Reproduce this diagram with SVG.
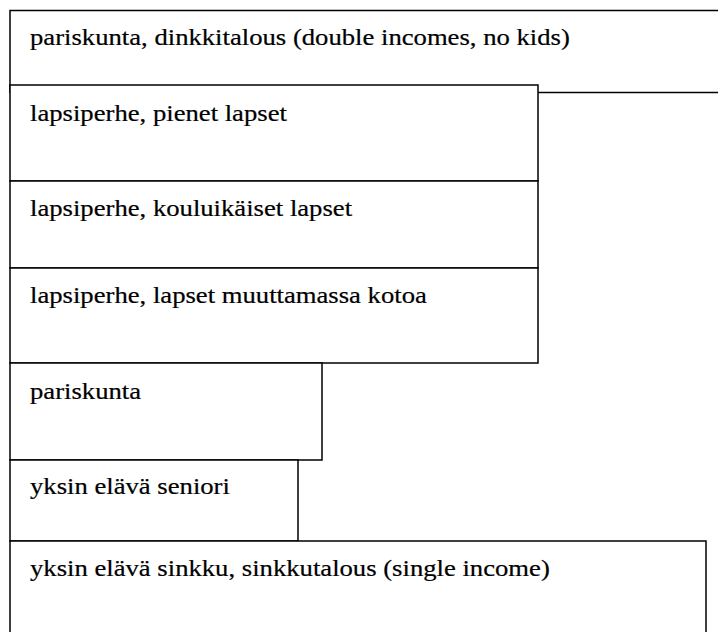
<svg xmlns="http://www.w3.org/2000/svg" width="718" height="632" viewBox="0 0 718 632">
  <style>
    .box { fill: #ffffff; stroke: #000000; stroke-width: 1.5; }
    .lbl { font-family: "Liberation Serif", "Times New Roman", serif; font-size: 23px; fill: #000000; stroke: #000000; stroke-width: 0.2; }
  </style>
  <rect width="718" height="632" fill="#ffffff"/>

  <!-- life-stage bands, stacked top to bottom -->
  <g id="dinks">
    <rect class="box" x="10" y="10.5" width="730" height="82"/>
    <text class="lbl" transform="translate(30,45) scale(1.16,1)">pariskunta, dinkkitalous (double incomes, no kids)</text>
  </g>
  <g id="small-children">
    <rect class="box" x="10" y="85" width="528" height="96"/>
    <text class="lbl" transform="translate(30,120.5) scale(1.16,1)">lapsiperhe, pienet lapset</text>
  </g>
  <g id="school-children">
    <rect class="box" x="10" y="181" width="528" height="87"/>
    <text class="lbl" transform="translate(30,216) scale(1.16,1)">lapsiperhe, kouluikäiset lapset</text>
  </g>
  <g id="children-moving-out">
    <rect class="box" x="10" y="268" width="528" height="95"/>
    <text class="lbl" transform="translate(30,302.7) scale(1.16,1)">lapsiperhe, lapset muuttamassa kotoa</text>
  </g>
  <g id="couple">
    <rect class="box" x="10" y="363" width="312" height="97"/>
    <text class="lbl" transform="translate(30,398.5) scale(1.16,1)">pariskunta</text>
  </g>
  <g id="single-senior">
    <rect class="box" x="10" y="460" width="288" height="81"/>
    <text class="lbl" transform="translate(30,494) scale(1.16,1)">yksin elävä seniori</text>
  </g>
  <g id="single">
    <rect class="box" x="10" y="541" width="696" height="110"/>
    <text class="lbl" transform="translate(30,575.5) scale(1.16,1)">yksin elävä sinkku, sinkkutalous (single income)</text>
  </g>

  <g id="connectors"></g>
</svg>
